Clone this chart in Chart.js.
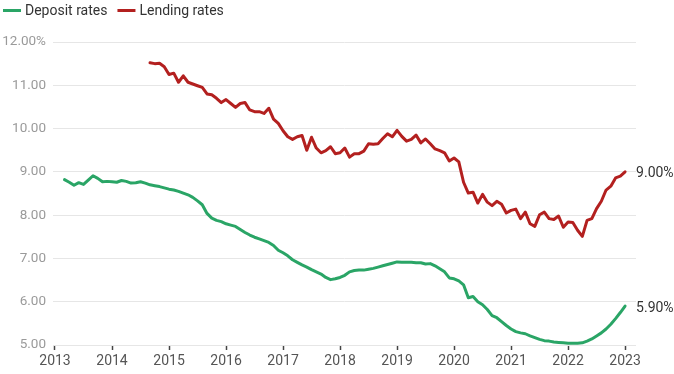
<!DOCTYPE html>
<html>
<head>
<meta charset="utf-8">
<script src="https://cdn.jsdelivr.net/npm/chart.js@4/dist/chart.umd.min.js"></script>
<style>
    html, body { margin: 0; padding: 0; background: #fff; }
    #wrap { width: 674px; height: 374px; }
</style>
</head>
<body>
<div id="wrap"><canvas id="rates" width="674" height="374"></canvas></div>
<script>
// ============================================
// DATA (monthly, % per year)
// ============================================

// first month of each series: [year, month]
const depositStart = [2013, 3];
const lendingStart = [2014, 9];

const depositRates = [
    8.82, 8.76, 8.69, 8.75, 8.71, 8.81, 8.91, 8.85, 8.77, 8.78,           // 2013 Mar-Dec
    8.77, 8.76, 8.80, 8.78, 8.74, 8.75, 8.77, 8.74, 8.70, 8.68, 8.66, 8.63, // 2014
    8.60, 8.58, 8.55, 8.51, 8.47, 8.41, 8.33, 8.24, 8.04, 7.93, 7.88, 7.85, // 2015
    7.80, 7.77, 7.74, 7.67, 7.60, 7.54, 7.49, 7.45, 7.41, 7.37, 7.30, 7.19, // 2016
    7.13, 7.06, 6.97, 6.91, 6.85, 6.80, 6.74, 6.69, 6.64, 6.56, 6.51, 6.53, // 2017
    6.56, 6.61, 6.69, 6.72, 6.73, 6.73, 6.75, 6.77, 6.80, 6.83, 6.86, 6.89, // 2018
    6.92, 6.91, 6.91, 6.91, 6.90, 6.90, 6.87, 6.88, 6.83, 6.76, 6.69, 6.55, // 2019
    6.53, 6.48, 6.39, 6.09, 6.12, 6.00, 5.93, 5.82, 5.68, 5.63, 5.54, 5.45, // 2020
    5.37, 5.31, 5.28, 5.26, 5.21, 5.17, 5.13, 5.10, 5.09, 5.07, 5.06, 5.05, // 2021
    5.04, 5.04, 5.04, 5.05, 5.09, 5.14, 5.21, 5.28, 5.37, 5.48, 5.61, 5.75, // 2022
    5.90                                                                  // 2023 Jan
];

const lendingRates = [
    11.52, 11.50, 11.51, 11.43,                                                       // 2014 Sep-Dec
    11.25, 11.28, 11.07, 11.22, 11.07, 11.03, 10.99, 10.95, 10.80, 10.78, 10.70, 10.60, // 2015
    10.67, 10.58, 10.49, 10.58, 10.60, 10.43, 10.39, 10.39, 10.35, 10.47, 10.22, 10.12, // 2016
    9.95, 9.81, 9.75, 9.81, 9.84, 9.50, 9.80, 9.55, 9.44, 9.49, 9.58, 9.42,             // 2017
    9.44, 9.55, 9.34, 9.42, 9.42, 9.48, 9.65, 9.64, 9.65, 9.77, 9.88, 9.81,             // 2018
    9.96, 9.82, 9.71, 9.75, 9.85, 9.67, 9.76, 9.65, 9.53, 9.49, 9.44, 9.25,             // 2019
    9.32, 9.23, 8.76, 8.51, 8.53, 8.28, 8.48, 8.30, 8.22, 8.32, 8.25, 8.05,             // 2020
    8.11, 8.14, 7.92, 8.07, 7.80, 7.74, 8.01, 8.07, 7.92, 7.90, 7.98, 7.72,             // 2021
    7.84, 7.83, 7.65, 7.51, 7.88, 7.92, 8.15, 8.32, 8.58, 8.67, 8.86, 8.90,             // 2022
    9.00                                                                              // 2023 Jan
];

const yearLabels = [2013, 2014, 2015, 2016, 2017, 2018, 2019, 2020, 2021, 2022, 2023];
const rateTicks = [5, 6, 7, 8, 9, 10, 11, 12];

const seriesNames = ['Deposit rates', 'Lending rates'];
const seriesColors = ['#2aa566', '#b3201f'];

// months counted from Jan of the first year label
function toPoints(start, values) {
    const offset = (start[0] - yearLabels[0]) * 12 + (start[1] - 1);
    return values.map((v, i) => ({ x: offset + i, y: v }));
}

const FONT = 'Roboto';

// legend at top-left and end-value labels at the right
const decorations = {
    id: 'decorations',
    afterDatasetsDraw(chart) {
        const ctx = chart.ctx;
        ctx.save();

        // legend
        ctx.font = `14px ${FONT}`;
        ctx.textBaseline = 'middle';
        ctx.textAlign = 'left';
        let x = 3;
        seriesNames.forEach((name, i) => {
            ctx.fillStyle = seriesColors[i];
            ctx.fillRect(x, 9, 18, 3);
            ctx.fillStyle = '#333';
            ctx.fillText(name, x + 22, 11);
            x += 22 + ctx.measureText(name).width + 10;
        });

        // last value labels
        chart.data.datasets.forEach((ds, i) => {
            const meta = chart.getDatasetMeta(i);
            const last = meta.data[meta.data.length - 1];
            const val = ds.data[ds.data.length - 1].y;
            ctx.fillStyle = '#333';
            ctx.fillText(val.toFixed(2) + '%', last.x + 11, last.y + 2);
        });

        ctx.restore();
    }
};

document.addEventListener('DOMContentLoaded', function() {
    const ctx = document.getElementById('rates').getContext('2d');
    new Chart(ctx, {
        type: 'line',
        data: {
            datasets: [{
                label: seriesNames[0],
                data: toPoints(depositStart, depositRates),
                borderColor: seriesColors[0],
                borderWidth: 3,
                pointRadius: 0,
                tension: 0,
                borderJoinStyle: 'round',
                borderCapStyle: 'round'
            }, {
                label: seriesNames[1],
                data: toPoints(lendingStart, lendingRates),
                borderColor: seriesColors[1],
                borderWidth: 3,
                pointRadius: 0,
                tension: 0,
                borderJoinStyle: 'round',
                borderCapStyle: 'round'
            }]
        },
        options: {
            responsive: false,
            animation: false,
            devicePixelRatio: 1,
            layout: {
                padding: { top: 42, right: 38, bottom: 0, left: 0 }
            },
            plugins: {
                legend: { display: false },
                tooltip: { enabled: false }
            },
            scales: {
                x: {
                    type: 'linear',
                    min: -0.42,
                    max: 122.3,
                    afterBuildTicks: (scale) => {
                        scale.ticks = yearLabels.map(y => ({ value: (y - yearLabels[0]) * 12 }));
                    },
                    afterFit: (scale) => { scale.height = 29; },
                    grid: {
                        drawOnChartArea: false,
                        drawTicks: true,
                        tickLength: 5,
                        tickColor: '#444',
                        tickWidth: 1.5
                    },
                    border: { display: false },
                    ticks: {
                        autoSkip: false,
                        maxRotation: 0,
                        padding: 3,
                        color: '#555',
                        font: { family: FONT, size: 14 },
                        callback: (value, index) => String(yearLabels[index])
                    }
                },
                y: {
                    min: rateTicks[0],
                    max: rateTicks[rateTicks.length - 1],
                    afterBuildTicks: (scale) => {
                        scale.ticks = rateTicks.map(v => ({ value: v }));
                    },
                    afterFit: (scale) => { scale.width = 53; },
                    grid: {
                        color: '#e6e6e6',
                        drawTicks: false
                    },
                    border: { display: false },
                    ticks: {
                        padding: 7,
                        color: '#9a9a9a',
                        font: { family: FONT, size: 13.5 },
                        callback: (value) => value === 12 ? '12.00%' : value.toFixed(2)
                    }
                }
            }
        },
        plugins: [decorations]
    });
});
</script>
</body>
</html>
